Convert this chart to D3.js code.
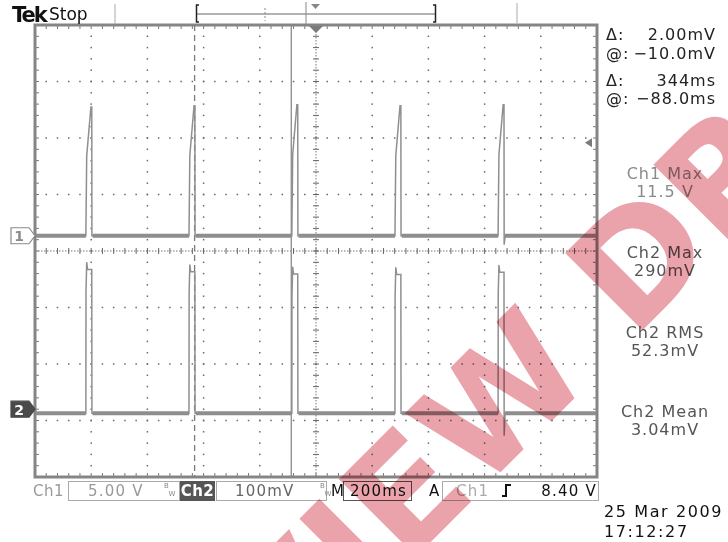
<!DOCTYPE html>
<html><head><meta charset="utf-8">
<script src="https://cdn.jsdelivr.net/npm/d3@7/dist/d3.min.js"></script>
<style>
html,body{margin:0;padding:0;background:#fff;}
svg{display:block;}
text{font-family:"DejaVu Sans",sans-serif;}
</style></head><body>
<svg id="c" width="728" height="542"></svg>
<script>
// ---------------- data ----------------
const timeSpanMs = [-1000, 1000];          // 10 div x 200 ms/div
const timeDivMs = 200;
const vertDivs = [-4, 4];
const ch1PeakMs = [-801, -434, -68, 299, 666];
const ch1PeakV  = [11.4, 11.5, 11.6, 11.5, 11.6];
const ch1UnderV = [0, 0, 0, 0, -0.8];
const ch2PeakMv = [262, 258, 254, 253, 257];
const ch2UnderMv = [0, 0, 0, 0, -40];
const ch1ShapeMs   = [-18, -15, 0, 3];
const ch1ShapeFrac = [0, 0.62, 1, 1];
const ch2ShapeMs   = [-18, -17.5, -15, -12, 3];
const ch2ShapeFrac = [0, 0.82, 1.02, 0.97, 0.97];
const ch1VoltsDiv = 5, ch1PosDiv = 0.27;
const ch2MvDiv = 100, ch2PosDiv = -2.87;
const cursorAtMs = -88, cursorDeltaMs = 344;
const trigLevelV = 8.40;
const readoutSym = ["Δ:", "@:", "Δ:", "@:"];
const readoutVal = ["2.00mV", "−10.0mV", "344ms", "−88.0ms"];
const measLabels = ["Ch1 Max", "Ch2 Max", "Ch2 RMS", "Ch2 Mean"];
const measValues = ["11.5 V", "290mV", "52.3mV", "3.04mV"];
const statusCh1 = "Ch1", statusCh1Scale = "5.00 V";
const statusCh2 = "Ch2", statusCh2Scale = "100mV";
const statusTime = "200ms", statusTrigSrc = "Ch1", statusTrigLevel = "8.40 V";
const dateLines = ["25 Mar  2009", "17:12:27"];
const watermarkText = "PREVIEW DRAFT";

// ---------------- layout ----------------
const svg = d3.select("#c");
const L = 35, R = 597, T = 25, B = 477;
const x = d3.scaleLinear().domain(timeSpanMs).range([L, R]);
const yDiv = d3.scaleLinear().domain(vertDivs).range([B, T]);
const y1 = v => yDiv(ch1PosDiv + v / ch1VoltsDiv);
const y2 = v => yDiv(ch2PosDiv + v / ch2MvDiv);

const majorX = d3.range(timeSpanMs[0], timeSpanMs[1] + 1, timeDivMs);
const minorX = d3.range(timeSpanMs[0], timeSpanMs[1] + 1, timeDivMs / 5);
const majorY = d3.range(vertDivs[0], vertDivs[1] + 0.001, 1);
const minorY = d3.range(vertDivs[0], vertDivs[1] + 0.001, 0.2);

// ---------------- graticule ----------------
const g = svg.append("g");
const dotC = "#6a6a6a";
majorX.filter(t => t !== 0 && t !== timeSpanMs[0] && t !== timeSpanMs[1]).forEach(t => {
  minorY.forEach(d => g.append("rect").attr("x", x(t) - 0.75).attr("y", yDiv(d) - 0.75)
    .attr("width", 1.5).attr("height", 1.5).attr("fill", dotC));
});
majorY.filter(d => d !== 0 && d !== vertDivs[0] && d !== vertDivs[1]).forEach(d => {
  minorX.forEach(t => g.append("rect").attr("x", x(t) - 0.75).attr("y", yDiv(d) - 0.75)
    .attr("width", 1.5).attr("height", 1.5).attr("fill", dotC));
});
// center lines
g.append("line").attr("x1", L).attr("x2", R).attr("y1", yDiv(0)).attr("y2", yDiv(0))
  .attr("stroke", "#777").attr("stroke-dasharray", "1.5,1.5");
g.append("line").attr("x1", x(0)).attr("x2", x(0)).attr("y1", T).attr("y2", B)
  .attr("stroke", "#777").attr("stroke-dasharray", "1.5,1.5");
minorX.forEach(t => g.append("line").attr("x1", x(t)).attr("x2", x(t))
  .attr("y1", yDiv(0) - 3).attr("y2", yDiv(0) + 3).attr("stroke", "#666"));
minorY.forEach(d => g.append("line").attr("y1", yDiv(d)).attr("y2", yDiv(d))
  .attr("x1", x(0) - 3).attr("x2", x(0) + 3).attr("stroke", "#666"));
// border ticks
minorX.forEach(t => {
  g.append("line").attr("x1", x(t)).attr("x2", x(t)).attr("y1", T).attr("y2", T + 4).attr("stroke", "#777");
  g.append("line").attr("x1", x(t)).attr("x2", x(t)).attr("y1", B).attr("y2", B - 4).attr("stroke", "#777");
});
minorY.forEach(d => {
  g.append("line").attr("y1", yDiv(d)).attr("y2", yDiv(d)).attr("x1", L).attr("x2", L + 4).attr("stroke", "#777");
  g.append("line").attr("y1", yDiv(d)).attr("y2", yDiv(d)).attr("x1", R).attr("x2", R - 4).attr("stroke", "#777");
});
g.append("rect").attr("x", L).attr("y", T).attr("width", R - L).attr("height", B - T)
  .attr("fill", "none").attr("stroke", "#858585").attr("stroke-width", 3);

// ---------------- cursors ----------------
g.append("line").attr("x1", x(cursorAtMs)).attr("x2", x(cursorAtMs)).attr("y1", T).attr("y2", B)
  .attr("stroke", "#8a8a8a").attr("stroke-width", 1.3);
g.append("line").attr("x1", x(cursorAtMs - cursorDeltaMs)).attr("x2", x(cursorAtMs - cursorDeltaMs))
  .attr("y1", T).attr("y2", B).attr("stroke", "#7a7a7a").attr("stroke-width", 1.3)
  .attr("stroke-dasharray", "6,4");

// ---------------- traces ----------------
svg.append("defs").append("clipPath").attr("id", "clip").append("rect")
  .attr("x", L + 1).attr("y", T).attr("width", R - L - 2).attr("height", B - T);
const tg = svg.append("g").attr("clip-path", "url(#clip)");

function buildTrace(peaks, amps, unders, shMs, shFr) {
  const pts = [[timeSpanMs[0], 0]];
  peaks.forEach((t, i) => {
    shMs.forEach((o, j) => pts.push([t + o, amps[i] * shFr[j]]));
    pts.push([t + 3.6, unders[i]]);
    pts.push([t + 7, 0]);
  });
  pts.push([timeSpanMs[1], 0]);
  return pts;
}
function drawChannel(peaks, amps, unders, shMs, shFr, yf) {
  const starts = [timeSpanMs[0], ...peaks.map(t => t + 6)];
  const ends = [...peaks.map(t => t + shMs[0]), timeSpanMs[1]];
  starts.forEach((s, i) => tg.append("line").attr("x1", x(s)).attr("x2", x(ends[i]))
    .attr("y1", yf(0)).attr("y2", yf(0)).attr("stroke", "#8c8c8c").attr("stroke-width", 4));
  const pts = buildTrace(peaks, amps, unders, shMs, shFr);
  tg.append("path").attr("d", d3.line().x(p => x(p[0])).y(p => yf(p[1]))(pts))
    .attr("fill", "none").attr("stroke", "#8f8f8f").attr("stroke-width", 1.5);
}
drawChannel(ch1PeakMs, ch1PeakV, ch1UnderV, ch1ShapeMs, ch1ShapeFrac, y1);
drawChannel(ch1PeakMs, ch2PeakMv, ch2UnderMv, ch2ShapeMs, ch2ShapeFrac, y2);

// trigger markers
const ty = y1(trigLevelV);
svg.append("path").attr("d", `M${R - 12},${ty + 2} L${R - 5},${ty - 2.5} L${R - 5},${ty + 6.5} Z`).attr("fill", "#7a7a7a");
svg.append("path").attr("d", `M${x(0) - 7},${T + 1} L${x(0) + 7},${T + 1} L${x(0)},${T + 8} Z`).attr("fill", "#7a7a7a");

// channel markers
function chMarker(cy, label, dark) {
  svg.append("path").attr("d", `M11,${cy - 8} H29 L35,${cy} L29,${cy + 8} H11 Z`)
    .attr("fill", dark ? "#4a4a4a" : "#fff").attr("stroke", dark ? "#4a4a4a" : "#8a8a8a").attr("stroke-width", 1.2);
  svg.append("text").attr("x", 19).attr("y", cy + 5.5).attr("text-anchor", "middle")
    .attr("font-size", 14).attr("font-weight", "bold").attr("fill", dark ? "#fff" : "#8a8a8a").text(label);
}
chMarker(y1(0), "1", false);
chMarker(y2(0) - 4, "2", true);

// ---------------- top bar ----------------
svg.append("text").attr("x", 12).attr("y", 22).attr("font-family", "Liberation Serif")
  .attr("font-weight", "bold").attr("font-size", 21).attr("letter-spacing", -2).attr("fill", "#111").text("Tek");
svg.append("text").attr("x", 49).attr("y", 19.5).attr("font-size", 17).attr("fill", "#111").text("Stop");
const tb = svg.append("g").attr("stroke", "#777").attr("fill", "none");
tb.append("line").attr("x1", 115).attr("x2", 115).attr("y1", 4).attr("y2", 24).attr("stroke", "#aaa");
tb.append("line").attr("x1", 517).attr("x2", 517).attr("y1", 3).attr("y2", 23).attr("stroke", "#aaa");
tb.append("line").attr("x1", 196).attr("x2", 436).attr("y1", 14).attr("y2", 14).attr("stroke", "#666");
tb.append("path").attr("d", "M199,5 H196.5 V22 H199").attr("stroke", "#222").attr("stroke-width", 1.5);
tb.append("path").attr("d", "M433,5 H435.5 V22 H433").attr("stroke", "#222").attr("stroke-width", 1.5);
tb.append("line").attr("x1", 265).attr("x2", 265).attr("y1", 8).attr("y2", 21).attr("stroke", "#888").attr("stroke-dasharray", "2,2");
tb.append("line").attr("x1", 306).attr("x2", 306).attr("y1", 2).attr("y2", 24).attr("stroke", "#888");
svg.append("path").attr("d", "M311,4 L320,4 L315.5,9 Z").attr("fill", "#888");

// ---------------- right panel ----------------
const rp = svg.append("g").attr("font-size", 16).attr("letter-spacing", 1);
const roY = [40, 59, 86, 104];
readoutSym.forEach((s, i) => {
  rp.append("text").attr("x", 606).attr("y", roY[i]).attr("fill", "#222").text(s);
  rp.append("text").attr("x", 716).attr("y", roY[i]).attr("text-anchor", "end").attr("fill", "#222").text(readoutVal[i]);
});
const mY = [179, 258, 338, 417];
measLabels.forEach((s, i) => {
  const c = i === 0 ? "#8a8a8a" : "#555";
  rp.append("text").attr("x", 665).attr("y", mY[i]).attr("text-anchor", "middle").attr("fill", c).text(s);
  rp.append("text").attr("x", 665).attr("y", mY[i] + 17.5).attr("text-anchor", "middle").attr("fill", c).text(measValues[i]);
});

// ---------------- status bar ----------------
const sb = svg.append("g").attr("font-size", 15).attr("letter-spacing", 1.2);
const boxY = 481, boxH = 19, tyB = 496;
sb.append("text").attr("x", 33).attr("y", tyB).attr("fill", "#999").attr("letter-spacing", 0.5).text(statusCh1);
sb.append("rect").attr("x", 68.5).attr("y", boxY + 0.5).attr("width", 111).attr("height", boxH).attr("fill", "none").attr("stroke", "#aaa");
sb.append("text").attr("x", 88).attr("y", tyB).attr("fill", "#999").text(statusCh1Scale);
function bw(xx) {
  sb.append("text").attr("x", xx).attr("y", 488).attr("font-size", 7).attr("letter-spacing", 0).attr("fill", "#888").text("B");
  sb.append("text").attr("x", xx + 4.5).attr("y", 496).attr("font-size", 7).attr("letter-spacing", 0).attr("fill", "#888").text("W");
}
bw(164);
sb.append("rect").attr("x", 180).attr("y", boxY).attr("width", 35).attr("height", boxH + 1).attr("fill", "#555");
sb.append("text").attr("x", 197.5).attr("y", tyB).attr("text-anchor", "middle").attr("fill", "#fff").attr("font-weight", "bold").attr("letter-spacing", 0.5).text(statusCh2);
sb.append("rect").attr("x", 216.5).attr("y", boxY + 0.5).attr("width", 110).attr("height", boxH).attr("fill", "none").attr("stroke", "#aaa");
sb.append("text").attr("x", 235).attr("y", tyB).attr("fill", "#666").text(statusCh2Scale);
bw(320);
sb.append("text").attr("x", 331).attr("y", tyB).attr("fill", "#111").attr("letter-spacing", 0).text("M");
sb.append("rect").attr("x", 343.5).attr("y", boxY + 0.5).attr("width", 68).attr("height", boxH).attr("fill", "none").attr("stroke", "#555");
sb.append("text").attr("x", 350).attr("y", tyB).attr("fill", "#111").text(statusTime);
sb.append("text").attr("x", 429).attr("y", tyB).attr("fill", "#111").text("A");
sb.append("rect").attr("x", 442.5).attr("y", boxY + 0.5).attr("width", 156).attr("height", boxH).attr("fill", "none").attr("stroke", "#aaa");
sb.append("text").attr("x", 456).attr("y", tyB).attr("fill", "#aaa").text(statusTrigSrc);
sb.append("path").attr("d", "M502,496 H506 V485 H511").attr("fill", "none").attr("stroke", "#111").attr("stroke-width", 2);
sb.append("text").attr("x", 597).attr("y", tyB).attr("text-anchor", "end").attr("fill", "#111").text(statusTrigLevel);
dateLines.forEach((s, i) => svg.append("text").attr("x", 604).attr("y", 517 + i * 20)
  .attr("font-size", 16).attr("letter-spacing", 1.6).attr("fill", "#111").text(s));

// ---------------- watermark ----------------
const wm = svg.append("g").attr("transform", "translate(650,269) rotate(-45)").style("mix-blend-mode", "multiply");
const wt = wm.append("text").attr("font-family", "Liberation Sans").attr("font-weight", "bold").attr("font-size", 150)
  .attr("fill", "#eaa3ab").text(watermarkText);
const ext = wt.node().getExtentOfChar(watermarkText.indexOf("D"));
wt.attr("x", -(ext.x + ext.width / 2)).attr("y", -(ext.y + ext.height / 2) - 14);
</script>
</body></html>
